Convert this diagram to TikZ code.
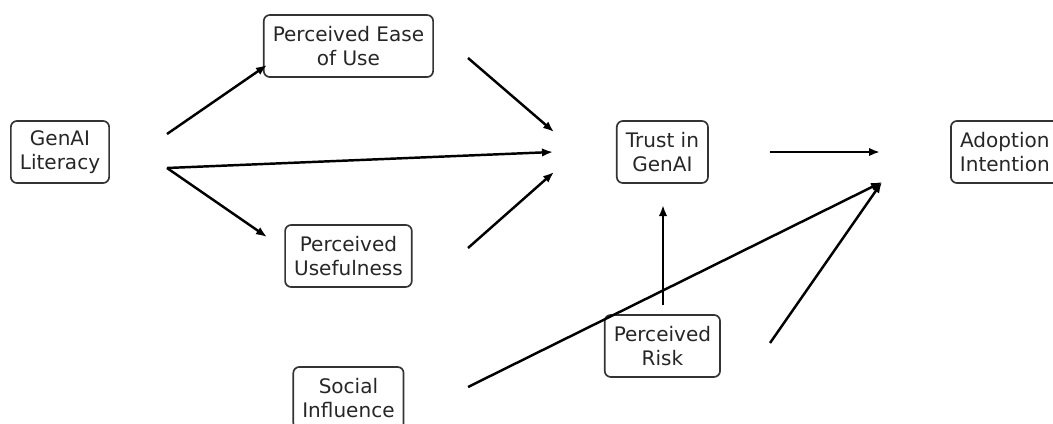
\documentclass[tikz,border=0pt]{standalone}
\usepackage{fontspec}
\setmainfont{DejaVu Sans}
\usetikzlibrary{positioning,arrows.meta}

\begin{document}
\begin{tikzpicture}[x=0.02cm,y=-0.02cm,on grid]
            \tikzstyle{construct}=[draw=black!80, line width=0.95pt, rounded corners=0.12cm, align=center,
                    inner xsep=0.18cm, inner ysep=0pt, minimum height=1.24cm, text=black!85,
                    font=\fontsize{11.4}{13.7}\selectfont]
            \tikzstyle{link}=[-{Latex[length=0.22cm,width=0.17cm]}, line width=1.4pt]
            \clip (0,0) rectangle (1053,423);

            \node[construct] (literacy)  at (60,152)                                  {GenAI\\Literacy};
            \node[construct] (ease)      [above right=2.12cm and 5.77cm of literacy] {Perceived Ease\\of Use};
            \node[construct] (useful)    [below = 4.2cm of ease]                   {Perceived\\Usefulness};
            \node[construct] (social)    [below = 2.84cm of useful]                {Social\\Influence};
            \node[construct] (trust)     [right = 12.05cm of literacy]             {Trust in\\GenAI};
            \node[construct] (risk)      [below = 3.88cm of trust]                 {Perceived\\Risk};
            \node[construct] (adoption)  [right = 6.85cm of trust]                 {Adoption\\Intention};

            % free arrow ends
            \coordinate (litUp)      at (167,134);
            \coordinate (litDown)    at (167,168);
            \coordinate (easeIn)     at (267,65);
            \coordinate (usefulIn)   at (267,237);
            \coordinate (easeOut)    at (468,58);
            \coordinate (usefulOut)  at (468,248);
            \coordinate (socialOut)  at (468,387);
            \coordinate (trustInA)   at (554,132);
            \coordinate (trustInB)   at (553,152);
            \coordinate (trustInC)   at (554,172);
            \coordinate (trustBelow) at (663,205);
            \coordinate (riskUp)     at (663,305);
            \coordinate (trustOut)   at (770,152);
            \coordinate (riskOut)    at (770,343);
            \coordinate (adoptInA)   at (880,152);
            \coordinate (adoptInB)   at (882,182);

            \path[link]
            (litUp)     edge (easeIn)
            (litDown)   edge (trustInB)
            (litDown)   edge (usefulIn)
            (easeOut)   edge (trustInA)
            (usefulOut) edge (trustInC)
            (trustOut)  edge (adoptInA)
            (socialOut) edge (adoptInB)
            (riskOut)   edge (adoptInB)
            (riskUp)    edge (trustBelow)
            ;
        \end{tikzpicture}
\end{document}
